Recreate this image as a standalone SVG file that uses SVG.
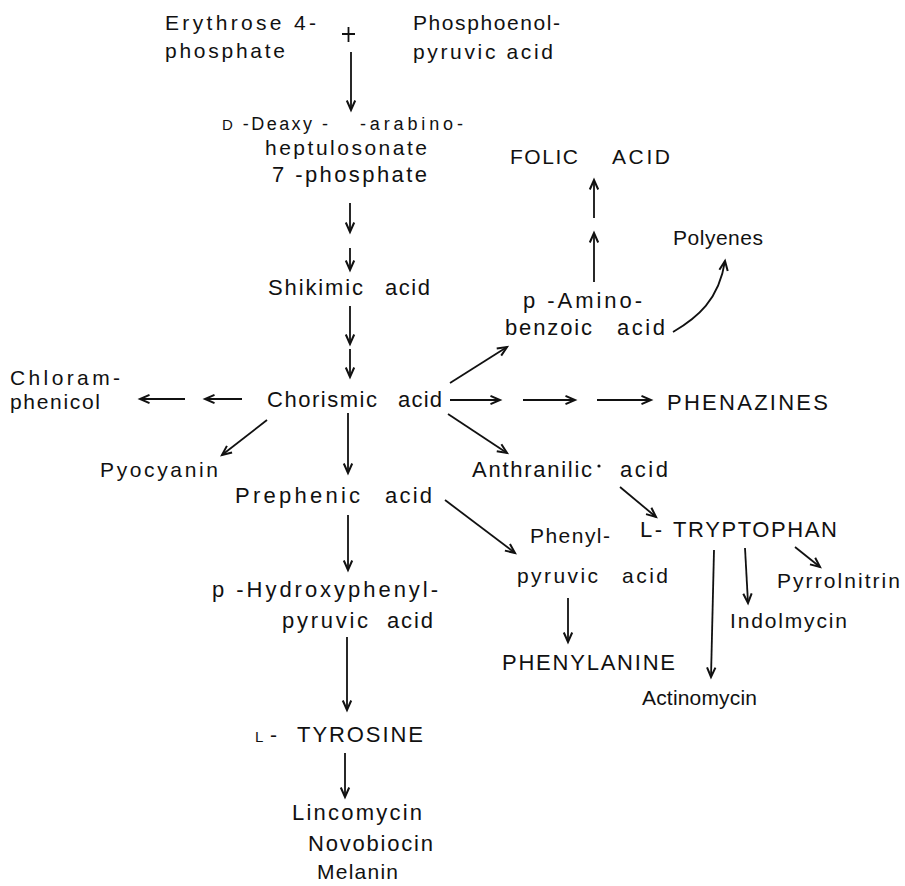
<svg xmlns="http://www.w3.org/2000/svg" width="905" height="886" viewBox="0 0 905 886">
<defs>
<style>
text{font-family:"Liberation Sans",Arial,sans-serif;font-size:21px;fill:#111;}
.big{font-size:22px;}
.med{font-size:18px;}
.sc{font-size:15px;}
.ln{stroke:#111;stroke-width:1.8;fill:none;marker-end:url(#ah);}
</style>
<marker id="ah" viewBox="0 0 12 10" markerWidth="12" markerHeight="10" refX="10.5" refY="5" orient="auto" markerUnits="userSpaceOnUse" overflow="visible">
<path d="M1,0.8 L10.5,5 L1,9.2" fill="none" stroke="#111" stroke-width="2" stroke-linejoin="miter"/>
</marker>
</defs>
<rect width="905" height="886" fill="#fff"/>

<g id="erythrose">
<text x="165" y="30" textLength="151" lengthAdjust="spacing">Erythrose 4-</text>
<text x="165" y="58" textLength="120" lengthAdjust="spacing">phosphate</text>
</g>
<g id="plus">
<path d="M342,34 H355 M348.5,27 V42" stroke="#111" stroke-width="1.8"/>
</g>
<g id="pep">
<text x="413" y="30" textLength="147" lengthAdjust="spacing">Phosphoenol-</text>
<text x="413" y="59" textLength="140" lengthAdjust="spacing">pyruvic acid</text>
</g>
<g id="dahp">
<text class="med" x="222" y="130" textLength="106" lengthAdjust="spacing"><tspan class="sc">D</tspan> -Deaxy -</text>
<text class="med" x="360" y="130" textLength="103" lengthAdjust="spacing">-arabino-</text>
<text x="265" y="155" textLength="162" lengthAdjust="spacing">heptulosonate</text>
<text class="big" x="272" y="182" textLength="155" lengthAdjust="spacing">7 -phosphate</text>
</g>
<g id="folic">
<text x="510" y="164" textLength="68" lengthAdjust="spacing">FOLIC</text>
<text x="612" y="164" textLength="58" lengthAdjust="spacing">ACID</text>
</g>
<g id="polyenes">
<text x="673" y="245" textLength="90" lengthAdjust="spacing">Polyenes</text>
</g>
<g id="shikimic">
<text class="big" x="268" y="295" textLength="95" lengthAdjust="spacing">Shikimic</text>
<text class="big" x="385" y="295" textLength="45" lengthAdjust="spacing">acid</text>
</g>
<g id="paba">
<text class="big" x="523" y="308" textLength="119" lengthAdjust="spacing">p -Amino-</text>
<text class="big" x="505" y="335" textLength="87" lengthAdjust="spacing">benzoic</text>
<text class="big" x="617" y="335" textLength="48" lengthAdjust="spacing">acid</text>
</g>
<g id="chloramphenicol">
<text x="10" y="385" textLength="110" lengthAdjust="spacing">Chloram-</text>
<text x="10" y="409" textLength="90" lengthAdjust="spacing">phenicol</text>
</g>
<g id="chorismic">
<text class="big" x="267" y="407" textLength="110" lengthAdjust="spacing">Chorismic</text>
<text class="big" x="398" y="407" textLength="44" lengthAdjust="spacing">acid</text>
</g>
<g id="phenazines">
<text class="big" x="667" y="410" textLength="161" lengthAdjust="spacing">PHENAZINES</text>
</g>
<g id="pyocyanin">
<text x="100" y="477" textLength="118" lengthAdjust="spacing">Pyocyanin</text>
</g>
<g id="anthranilic">
<text class="big" x="472" y="477" textLength="120" lengthAdjust="spacing">Anthranilic</text>
<circle cx="599" cy="466" r="1.6" fill="#111"/>
<text class="big" x="620" y="477" textLength="48" lengthAdjust="spacing">acid</text>
</g>
<g id="prephenic">
<text class="big" x="235" y="503" textLength="125" lengthAdjust="spacing">Prephenic</text>
<text class="big" x="385" y="503" textLength="47" lengthAdjust="spacing">acid</text>
</g>
<g id="tryptophan">
<text class="big" x="640" y="537" textLength="22" lengthAdjust="spacing">L-</text>
<text class="big" x="673" y="537" textLength="164" lengthAdjust="spacing">TRYPTOPHAN</text>
</g>
<g id="phenylpyruvic">
<text x="530" y="543" textLength="80" lengthAdjust="spacing">Phenyl-</text>
<text x="517" y="583" textLength="81" lengthAdjust="spacing">pyruvic</text>
<text x="622" y="583" textLength="46" lengthAdjust="spacing">acid</text>
</g>
<g id="pyrrolnitrin">
<text x="777" y="588" textLength="123" lengthAdjust="spacing">Pyrrolnitrin</text>
</g>
<g id="hpp">
<text class="big" x="212" y="597" textLength="226" lengthAdjust="spacing">p -Hydroxyphenyl-</text>
<text class="big" x="282" y="628" textLength="86" lengthAdjust="spacing">pyruvic</text>
<text class="big" x="387" y="628" textLength="46" lengthAdjust="spacing">acid</text>
</g>
<g id="indolmycin">
<text x="730" y="628" textLength="117" lengthAdjust="spacing">Indolmycin</text>
</g>
<g id="phenylalanine">
<text class="big" x="502" y="670" textLength="173" lengthAdjust="spacing">PHENYLANINE</text>
</g>
<g id="actinomycin">
<text x="642" y="705" textLength="115" lengthAdjust="spacing">Actinomycin</text>
</g>
<g id="tyrosine">
<text class="sc" x="255" y="742">L</text>
<text x="270" y="742" textLength="10" lengthAdjust="spacing">-</text>
<text class="big" x="297" y="742" textLength="126" lengthAdjust="spacing">TYROSINE</text>
</g>
<g id="products">
<text class="big" x="292" y="820" textLength="130" lengthAdjust="spacing">Lincomycin</text>
<text class="big" x="308" y="851" textLength="125" lengthAdjust="spacing">Novobiocin</text>
<text x="317" y="879" textLength="81" lengthAdjust="spacing">Melanin</text>
</g>

<g id="connectors">
<path class="ln" d="M351,52 V110"/>
<path class="ln" d="M350,203 V232"/>
<path class="ln" d="M350,248 V270"/>
<path class="ln" d="M350,306 V344"/>
<path class="ln" d="M350,349 V377"/>
<path class="ln" d="M185,399 H140"/>
<path class="ln" d="M242,399 H205"/>
<path class="ln" d="M267,420 L222,455"/>
<path class="ln" d="M348,413 V473"/>
<path class="ln" d="M450,383 L507,347"/>
<path class="ln" d="M450,400 H500"/>
<path class="ln" d="M523,400 H575"/>
<path class="ln" d="M597,400 H651"/>
<path class="ln" d="M448,414 L507,453"/>
<path class="ln" d="M594,218 V180"/>
<path class="ln" d="M594,282 V233"/>
<path class="ln" d="M673,332 C697,318 719,300 725,261"/>
<path class="ln" d="M620,487 L656,517"/>
<path class="ln" d="M445,500 L515,553"/>
<path class="ln" d="M348,515 V570"/>
<path class="ln" d="M347,637 V710"/>
<path class="ln" d="M345,753 V797"/>
<path class="ln" d="M568,598 V642"/>
<path class="ln" d="M714,550 L711,677"/>
<path class="ln" d="M745,548 L748,603"/>
<path class="ln" d="M795,547 L820,567"/>
</g>
</svg>
